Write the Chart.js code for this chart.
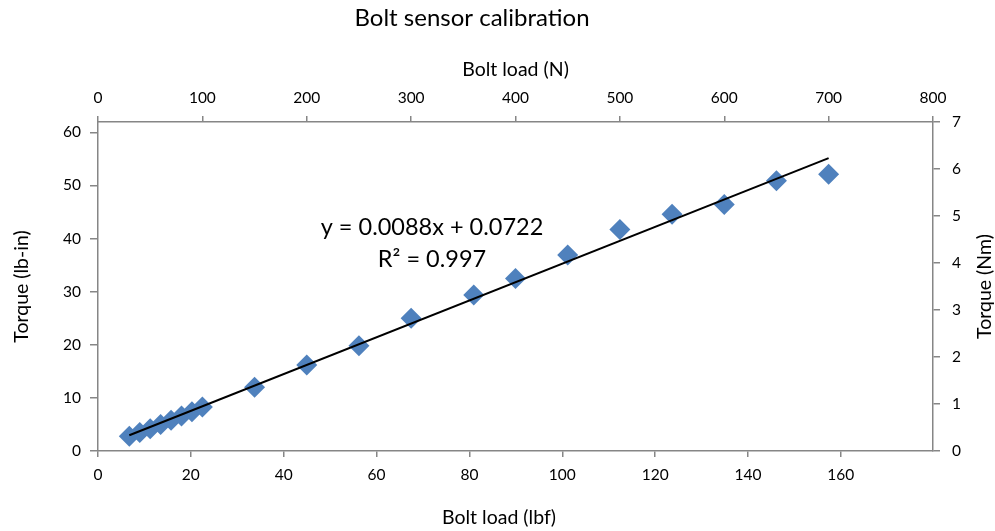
<!DOCTYPE html>
<html>
<head>
<meta charset="utf-8">
<script src="https://cdn.jsdelivr.net/npm/chart.js@4/dist/chart.umd.min.js"></script>
<style>
  html, body { margin: 0; padding: 0; background: #ffffff; }
  #wrap { width: 995px; height: 531px; }
</style>
</head>
<body>
<div id="wrap"><canvas id="c" width="995" height="531"></canvas></div>
<script>
// Calibration measurements: applied bolt load (N) and measured torque (lb-in)
const loadN      = [30, 40, 50, 60, 70, 80, 90, 100, 150, 200, 250, 300, 360, 400, 450, 500, 550, 600, 650, 700];
const torqueLbIn = [2.8, 3.5, 4.2, 5.0, 5.8, 6.6, 7.4, 8.3, 12.0, 16.2, 19.8, 25.0, 29.4, 32.5, 36.9, 41.7, 44.6, 46.4, 50.9, 52.1];

// Axis tick labels
const lbfTicks    = [0, 20, 40, 60, 80, 100, 120, 140, 160];
const newtonTicks = [0, 100, 200, 300, 400, 500, 600, 700, 800];
const lbInTicks   = [0, 10, 20, 30, 40, 50, 60];
const nmTicks     = [0, 1, 2, 3, 4, 5, 6, 7];

// Linear fit (Nm against N)
const fitSlope = 0.0088;
const fitIntercept = 0.0722;
const fitR2 = 0.997;
const fitRangeN = [30, 700];

// Unit conversions
const N_PER_LBF = 4.44822;
const LBIN_PER_NM = 8.85075;

const FONT = 'Lato, "Open Sans", sans-serif';
const AXIS_GREY = '#868686';
const tickFont = { family: FONT, size: 15.5 };
const titleFont = { family: FONT, size: 19.5 };

const points = loadN.map((n, i) => ({ x: n, y: torqueLbIn[i] }));
const fitLine = fitRangeN.map(n => ({ x: n, y: fitSlope * n + fitIntercept }));

function fixedTicks(values) {
  return scale => { scale.ticks = values.map(v => ({ value: v })); };
}

function axisGrid(len) {
  return { display: true, drawOnChartArea: false, drawTicks: true, tickLength: len, color: AXIS_GREY, lineWidth: 1.5 };
}
function axisBorder() {
  return { display: true, color: AXIS_GREY, width: 1.5 };
}

// Extra text: chart title, bottom and right axis titles, regression label
const textPlugin = {
  id: 'chartText',
  afterDraw(chart) {
    const ctx = chart.ctx;
    const area = chart.chartArea;
    ctx.save();
    ctx.fillStyle = '#000';
    ctx.textAlign = 'center';
    ctx.textBaseline = 'middle';

    ctx.font = '24px ' + FONT;
    ctx.fillText('Bolt sensor calibration', 472, 18);

    ctx.font = '23.5px ' + FONT;
    ctx.fillText('y = ' + fitSlope.toFixed(4) + 'x + ' + fitIntercept.toFixed(4), 432, 227);
    ctx.fillText('R\u00b2 = ' + fitR2.toFixed(3), 432, 259);

    ctx.font = titleFont.size + 'px ' + FONT;
    ctx.fillText('Bolt load (lbf)', 499, 518);

    ctx.translate(985, (area.top + area.bottom) / 2);
    ctx.rotate(-Math.PI / 2);
    ctx.fillText('Torque (Nm)', 0, 0);
    ctx.restore();
  }
};

new Chart(document.getElementById('c'), {
  type: 'scatter',
  data: {
    datasets: [
      {
        type: 'line',
        label: 'Linear fit',
        data: fitLine,
        xAxisID: 'x2',
        yAxisID: 'y2',
        borderColor: '#000000',
        borderWidth: 2,
        pointRadius: 0,
        fill: false,
        order: 0
      },
      {
        label: 'Torque',
        data: points,
        xAxisID: 'x2',
        yAxisID: 'y',
        pointStyle: 'rectRot',
        pointRadius: 10.5,
        pointHoverRadius: 10.5,
        pointBackgroundColor: '#4f81bd',
        pointBorderColor: '#4f81bd',
        pointBorderWidth: 0,
        order: 1
      }
    ]
  },
  options: {
    responsive: false,
    animation: false,
    devicePixelRatio: 1,
    layout: { padding: { top: 40, left: 0, right: 0, bottom: 0 } },
    plugins: {
      legend: { display: false },
      tooltip: { enabled: false },
      title: { display: false }
    },
    scales: {
      x: {
        type: 'linear',
        position: 'bottom',
        min: 0,
        max: 800 / N_PER_LBF,
        afterBuildTicks: fixedTicks(lbfTicks),
        afterFit: s => { s.height = 80; },
        grid: axisGrid(6),
        border: axisBorder(),
        ticks: { font: tickFont, color: '#000', padding: 9, autoSkip: false, maxRotation: 0 },
        title: { display: false }
      },
      x2: {
        type: 'linear',
        position: 'top',
        min: 0,
        max: 800,
        afterBuildTicks: fixedTicks(newtonTicks),
        afterFit: s => { s.height = 82; },
        grid: axisGrid(6),
        border: axisBorder(),
        ticks: { font: tickFont, color: '#000', padding: 9, autoSkip: false, maxRotation: 0 },
        title: { display: true, text: 'Bolt load (N)', font: titleFont, color: '#000', padding: { top: 18, bottom: 0 } }
      },
      y: {
        type: 'linear',
        position: 'left',
        min: 0,
        max: 7 * LBIN_PER_NM,
        afterBuildTicks: fixedTicks(lbInTicks),
        afterFit: s => { s.width = 98; },
        grid: axisGrid(8),
        border: axisBorder(),
        ticks: { font: tickFont, color: '#000', padding: 9, autoSkip: false },
        title: { display: true, text: 'Torque (lb-in)', font: titleFont, color: '#000', padding: { top: 10, bottom: 0 } }
      },
      y2: {
        type: 'linear',
        position: 'right',
        min: 0,
        max: 7,
        afterBuildTicks: fixedTicks(nmTicks),
        afterFit: s => { s.width = 62; },
        grid: axisGrid(7),
        border: axisBorder(),
        ticks: { font: tickFont, color: '#000', padding: 12, autoSkip: false },
        title: { display: false }
      }
    }
  },
  plugins: [textPlugin]
});
</script>
</body>
</html>
